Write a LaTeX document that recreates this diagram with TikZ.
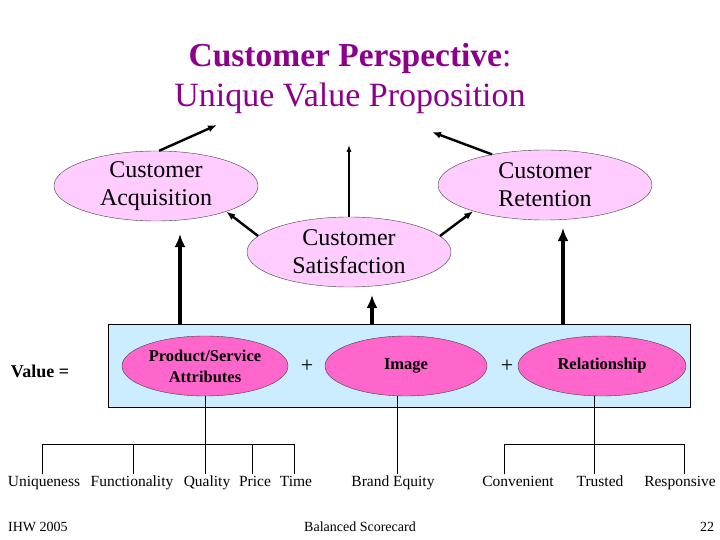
\documentclass[tikz,border=0pt]{standalone}
\usepackage{fontspec}
\setmainfont{Liberation Serif}
\usetikzlibrary{arrows.meta,shapes.geometric}
\definecolor{titlepurple}{RGB}{140,0,140}
\definecolor{lightpink}{RGB}{255,204,255}
\definecolor{hotpink}{RGB}{255,102,204}
\definecolor{lightblue}{RGB}{204,236,255}

\tikzset{
    outcome/.style={ellipse, draw=black!75, fill=lightpink, minimum width=204, minimum height=70, inner sep=0pt},
    outtext/.style={align=center, font=\fontsize{24}{28}\selectfont},
    driver/.style={ellipse, draw=black!75, fill=hotpink, minimum width=166, minimum height=60, inner sep=0pt,
        align=center, font=\fontsize{16.5}{21}\selectfont\bfseries},
    leaf/.style={font=\fontsize{15.5}{18}\selectfont, text height=11pt, text depth=3pt, inner sep=0pt},
    footer/.style={font=\fontsize{14}{16}\selectfont, inner sep=0pt},
    midarrow/.style={->, line width=2.4pt},
    thinarrow/.style={-{Latex[length=7pt,width=5pt]}, line width=1.1pt},
    uparrow/.style={-{Latex[length=13pt,width=11pt]}, line width=3.8pt}
}

\begin{document}
\begin{tikzpicture}[x=1pt, y=-1pt, >={Latex[length=9pt,width=7pt]}]
    \useasboundingbox (0,0) rectangle (720,540);

    % the title
    \node[titlepurple, font=\fontsize{33.5}{40}\selectfont, anchor=base] (title1) at (350,67) {\textbf{Customer Perspective}:};
    \node[titlepurple, font=\fontsize{34}{40}\selectfont, anchor=base] (title2) at (350,107) {Unique Value Proposition};

    % the outcome ellipses
    \node[outcome] (acq) at (156,186) {};
    \node[outcome, minimum width=214] (ret) at (545,185) {};
    \node[outcome] (sat) at (349,252) {};
    \node[outtext] (acqtext) at (acq) {Customer\\Acquisition};
    \node[outtext] (rettext) at (ret) {Customer\\Retention};
    \node[outtext] (sattext) at (sat) {Customer\\Satisfaction};

    % free ends of the arrows to the title
    \coordinate (acqtip) at (217,125);
    \coordinate (rettip) at (432,132);
    \coordinate (sattip) at (348,145);

    \draw[midarrow] (acq.85) -- (acqtip);
    \draw[midarrow] (ret.150) -- (rettip);
    \draw[thinarrow] (sat.north) -- (sat.north |- sattip);
    \draw[midarrow] (sat.170) -- (acq.-20);
    \draw[midarrow] (sat.10) -- (ret.200);

    % the value box
    \node[draw, fill=lightblue, minimum width=582, minimum height=83, inner sep=0pt] (valbox) at (399,365.5) {};
    \node[font=\fontsize{18}{20}\selectfont\bfseries] (value) at (40,371) {Value =};
    \node[driver] (prod) at (205,366) {Product/Service\\Attributes};
    \node[driver, minimum width=162] (img) at (406,366) {Image};
    \node[driver, minimum width=168] (rel) at (602,366) {Relationship};
    \node[font=\fontsize{22}{24}\selectfont] (plus1) at (307,366) {+};
    \node[font=\fontsize{22}{24}\selectfont] (plus2) at (507,366) {+};

    % the thick arrows up from the box
    \coordinate (upacq) at (180,234);
    \coordinate (upsat) at (372,295);
    \coordinate (upret) at (563,228);
    \draw[uparrow] (upacq |- valbox.north) -- (upacq);
    \draw[uparrow] (upsat |- valbox.north) -- (upsat);
    \draw[uparrow] (upret |- valbox.north) -- (upret);

    % the leaves
    \node[leaf] (uniq) at (44,482) {Uniqueness};
    \node[leaf] (func) at (132,482) {Functionality};
    \node[leaf] (qual) at (207,482) {Quality};
    \node[leaf] (price) at (255,482) {Price};
    \node[leaf] (time) at (296,482) {Time};
    \node[leaf] (brand) at (393,482) {Brand Equity};
    \node[leaf] (conv) at (518,482) {Convenient};
    \node[leaf] (trust) at (600,482) {Trusted};
    \node[leaf] (resp) at (680,482) {Responsive};

    % the tree lines (leaf tops)
    \coordinate (p1) at (42,474);
    \coordinate (p2) at (133,474);
    \coordinate (p3) at (205,474);
    \coordinate (p4) at (252,474);
    \coordinate (p5) at (294,474);
    \coordinate (b1) at (397,474);
    \coordinate (r1) at (504,474);
    \coordinate (r2) at (594,474);
    \coordinate (r3) at (684,474);

    \draw (p1) -- ++(0,-30) -| (p5);
    \foreach \c in {p2,p4}
        \draw (\c) -- ++(0,-30);
    \draw (prod.south) -- (p3);
    \draw (img.south -| b1) -- (b1);
    \draw (r1) -- ++(0,-30) -| (r3);
    \draw (rel.south -| r2) -- (r2);

    % the footer
    \node[footer, anchor=west] (ihw) at (8,527) {IHW 2005};
    \node[footer] (bsc) at (360,527) {Balanced Scorecard};
    \node[footer] (page) at (707,527) {22};
\end{tikzpicture}
\end{document}
